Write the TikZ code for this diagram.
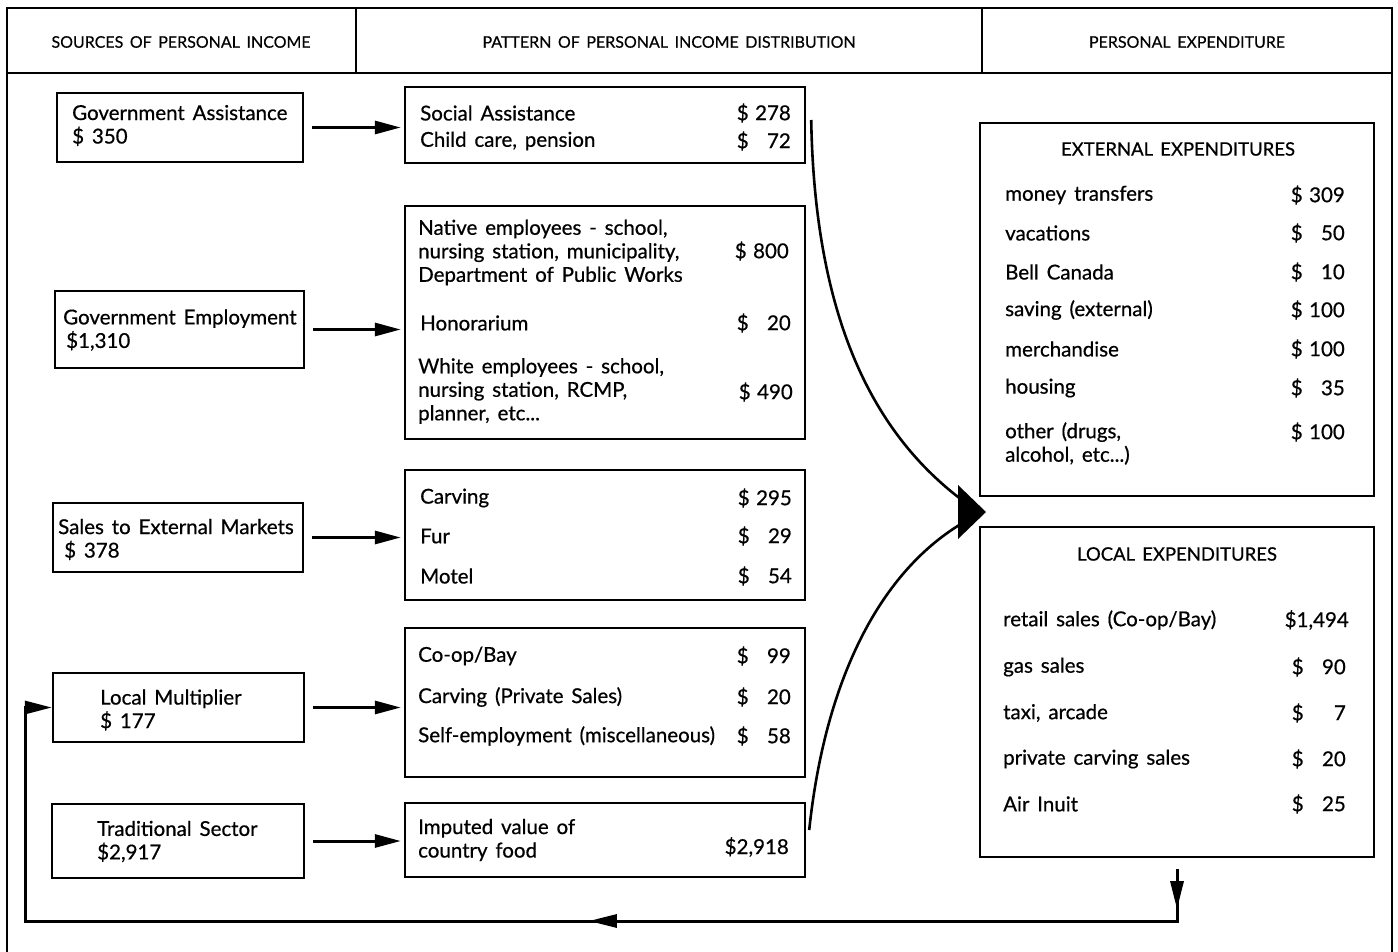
\documentclass[tikz,border=0pt]{standalone}
\usepackage{fontspec}
\setmainfont{Lato}[WordSpace=1.5,FakeBold=0.6]
\newfontfamily\hdfont{Lato}[WordSpace=1.6,FakeBold=0.4]
\usetikzlibrary{arrows.meta,decorations.markings,calc}
\newcommand\amt[1]{\makebox[54pt][s]{\$\hfill#1}}
\begin{document}
\begin{tikzpicture}[x=1pt,y=-1pt,
  every node/.style={font=\fontsize{20.5}{23.5}\selectfont},
  box/.style={draw,line width=2.4pt,inner sep=0pt},
  lbl/.style={anchor=west,align=left,inner sep=0pt},
  val/.style={anchor=east,inner sep=0pt},
  hd/.style={font=\hdfont\fontsize{16}{18}\selectfont,inner sep=0pt},
  ttl/.style={font=\fontsize{18.5}{22}\selectfont,inner sep=0pt},
  frame/.style={line width=1.8pt},
  harrow/.style={line width=3pt,-{Triangle[length=26pt,width=13pt]},shorten <=8pt,shorten >=3pt},
  curve/.style={line width=2.6pt},
  loopline/.style={line width=3pt,-{Triangle[length=27pt,width=13pt]}},
]
\useasboundingbox (0,0) rectangle (1398,952);
% frame and header
\draw[frame] (7,952) -- (7,8) -- (1392,8) -- (1392,952);
\draw[frame] (7,73) -- (1392,73);
\draw[frame] (356,8) -- (356,73);
\draw[frame] (982,8) -- (982,73);
\node[hd] (h1) at (181,42) {SOURCES OF PERSONAL INCOME};
\node[hd] (h2) at (669,42) {PATTERN OF PERSONAL INCOME DISTRIBUTION};
\node[hd] (h3) at (1187,42) {PERSONAL EXPENDITURE};

% left boxes
\node[box,minimum width=246pt,minimum height=69pt] (ga) at (180,127.5) {};
\node[box,minimum width=249pt,minimum height=77pt] (ge) at (179.5,329.5) {};
\node[box,minimum width=250pt,minimum height=69pt] (se) at (178,537.5) {};
\node[box,minimum width=251pt,minimum height=69pt] (lm) at (178.5,707.5) {};
\node[box,minimum width=252pt,minimum height=74pt] (ts) at (178,841) {};
\node[lbl] (gat) at (72,125.5) {Government Assistance\\\$ 350};
\node[lbl] (get) at (63,330) {Government Employment\\\hspace*{3pt}\$1,310};
\node[lbl] (set) at (58,539.5) {Sales to External Markets\\\hspace*{6pt}\$ 378};
\node[lbl] (lmt) at (100,710) {Local Multiplier\\\$ 177};
\node[lbl] (tst) at (97,841.5) {Traditional Sector\\\$2,917};

% middle boxes
\node[box,minimum width=400pt,minimum height=76pt] (sa) at (605,125) {};
\node[box,minimum width=400pt,minimum height=233pt] (gm) at (605,322.5) {};
\node[box,minimum width=400pt,minimum height=130pt] (sx) at (605,535) {};
\node[box,minimum width=400pt,minimum height=149pt] (lx) at (605,702.5) {};
\node[box,minimum width=400pt,minimum height=74pt] (tx) at (605,840) {};

\node[lbl] (m1) at (420,113) {Social Assistance};
\node[val] (v1) at (791,113) {\amt{278}};
\node[lbl] (m2) at (420,141) {Child care, pension};
\node[val] (v2) at (791,141) {\amt{72}};
\node[lbl] (m3) at (418,252.5) {Native employees - school,\\nursing station, municipality,\\Department of Public Works};
\node[val] (v3) at (789,251) {\amt{800}};
\node[lbl] (m4) at (420,323) {Honorarium};
\node[val] (v4) at (791,323) {\amt{20}};
\node[lbl] (m5) at (418,391) {White employees - school,\\nursing station, RCMP,\\planner, etc...};
\node[val] (v5) at (793,392) {\amt{490}};
\node[lbl] (m6) at (420,498) {Carving};
\node[val] (v6) at (792,498) {\amt{295}};
\node[lbl] (m7) at (420,536) {Fur};
\node[val] (v7) at (792,536) {\amt{29}};
\node[lbl] (m8) at (420,576) {Motel};
\node[val] (v8) at (792,576) {\amt{54}};
\node[lbl] (m9) at (418,656) {Co-op/Bay};
\node[val] (v9) at (791,656) {\amt{99}};
\node[lbl] (m10) at (418,697) {Carving (Private Sales)};
\node[val] (v10) at (791,697) {\amt{20}};
\node[lbl] (m11) at (418,736) {Self-employment (miscellaneous)};
\node[val] (v11) at (791,736) {\amt{58}};
\node[lbl] (m12) at (418,840) {Imputed value of\\country food};
\node[val] (v12) at (789,847) {\$2,918};

% right boxes
\node[box,minimum width=394pt,minimum height=373pt] (ee) at (1177,309.5) {};
\node[box,minimum width=394pt,minimum height=330pt] (le) at (1177,692) {};
\node[ttl] (eet) at (1178,149) {EXTERNAL EXPENDITURES};
\node[lbl] (e1) at (1005,195) {money transfers};
\node[val] (w1) at (1345,195) {\amt{309}};
\node[lbl] (e2) at (1005,233) {vacations};
\node[val] (w2) at (1345,233) {\amt{50}};
\node[lbl] (e3) at (1005,272) {Bell Canada};
\node[val] (w3) at (1345,272) {\amt{10}};
\node[lbl] (e4) at (1005,310) {saving (external)};
\node[val] (w4) at (1345,310) {\amt{100}};
\node[lbl] (e5) at (1005,349) {merchandise};
\node[val] (w5) at (1345,349) {\amt{100}};
\node[lbl] (e6) at (1005,388) {housing};
\node[val] (w6) at (1345,388) {\amt{35}};
\node[lbl] (e7) at (1005,443.5) {other (drugs,\\alcohol, etc...)};
\node[val] (w7) at (1345,432) {\amt{100}};

\node[ttl] (let) at (1177,554) {LOCAL EXPENDITURES};
\node[lbl] (l1) at (1003,620) {retail sales (Co-op/Bay)};
\node[val] (u1) at (1349,620) {\$1,494};
\node[lbl] (l2) at (1003,667) {gas sales};
\node[val] (u2) at (1346,667) {\amt{90}};
\node[lbl] (l3) at (1003,713) {taxi, arcade};
\node[val] (u3) at (1346,713) {\amt{7}};
\node[lbl] (l4) at (1003,759) {private carving sales};
\node[val] (u4) at (1346,759) {\amt{20}};
\node[lbl] (l5) at (1003,804) {Air Inuit};
\node[val] (u5) at (1346,804) {\amt{25}};

% horizontal arrows
\draw[harrow] (ga.east) -- (ga.east -| sa.west);
\draw[harrow] (ge.east) -- (ge.east -| gm.west);
\draw[harrow] (se.east) -- (se.east -| sx.west);
\draw[harrow] (lm.east) -- (lm.east -| lx.west);
\draw[harrow] (ts.east) -- (ts.east -| tx.west);

% converging curves
\coordinate (tip) at (986,512);
\draw[curve] ([xshift=5pt,yshift=5pt]sa.east) .. controls (815,330) and (880,440) .. (966,503);
\draw[curve] ([xshift=3pt,yshift=10pt]tx.east) .. controls (825,680) and (880,570) .. (966,521);
\fill (tip) -- ++(-28,-27) -- ++(0,54) -- cycle;

% feedback loop
\coordinate (lb) at (1177,921);
\coordinate (lbl) at (25,921);
\draw[loopline,postaction={decorate},decoration={markings,
    mark=at position 40pt with {\arrow{Triangle[length=28pt,width=13pt]}},
    mark=at position 640pt with {\arrow{Triangle[length=28pt,width=13pt]}}}]
  ([yshift=-11pt]le.south) -- (lb) -- (lbl) -- (lbl |- lm.west) -- (lm.west);
\end{tikzpicture}
\end{document}
